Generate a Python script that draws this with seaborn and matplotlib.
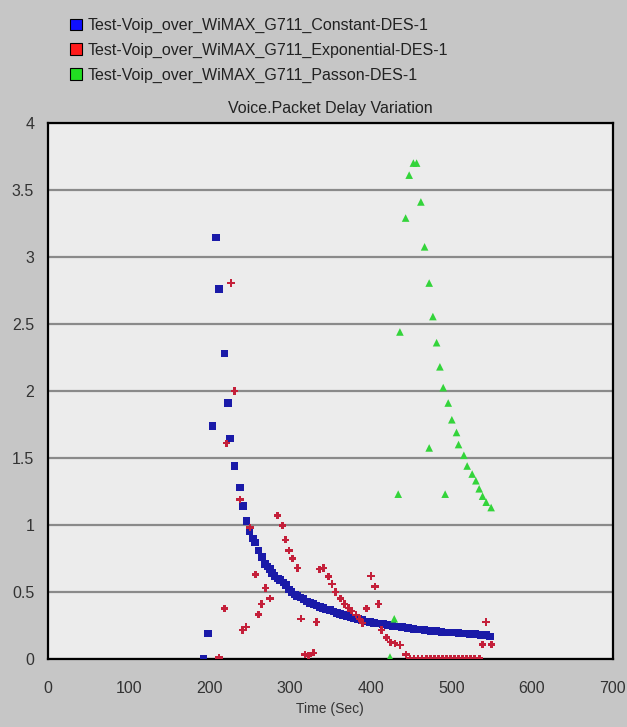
import matplotlib
matplotlib.use("Agg")
import matplotlib.pyplot as plt
from matplotlib.patches import Patch
import pandas as pd
import seaborn as sns

# 読み取った値（Time [s], Packet Delay Variation）
constant_time = [193, 198, 204, 208, 212, 219, 223, 226, 231, 238, 242, 246, 250, 254,
                 257, 261, 265, 269, 272, 275, 278, 281, 285, 288, 292, 295, 299, 302,
                 306, 309, 313, 317, 321, 325, 329, 333, 337, 341, 345, 350, 354, 358,
                 362, 366, 371, 375, 379, 384, 389, 394, 399, 404, 409, 415, 421, 427,
                 433, 439, 446, 453, 460, 467, 474, 481, 488, 495, 502, 509, 516, 523,
                 530, 537, 543, 548]
constant_pdv = [0.00, 0.19, 1.74, 3.145, 2.76, 2.28, 1.91, 1.645, 1.44, 1.28, 1.14, 1.03,
                0.95, 0.90, 0.87, 0.81, 0.76, 0.71, 0.69, 0.67, 0.64, 0.62, 0.60, 0.59,
                0.57, 0.55, 0.52, 0.50, 0.48, 0.47, 0.46, 0.45, 0.43, 0.42, 0.41, 0.40,
                0.39, 0.38, 0.37, 0.365, 0.355, 0.345, 0.335, 0.33, 0.32, 0.31, 0.305,
                0.30, 0.29, 0.28, 0.275, 0.268, 0.264, 0.26, 0.255, 0.248, 0.243, 0.237,
                0.23, 0.223, 0.219, 0.215, 0.211, 0.207, 0.203, 0.199, 0.197, 0.194,
                0.191, 0.188, 0.185, 0.181, 0.178, 0.167]

exp_time = [212, 218.6, 221.3, 227, 231.2, 238, 241.3, 245.5, 250.4, 257, 260.7, 264.9,
            269.4, 275.2, 284.3, 290.9, 294.2, 298.8, 303.3, 309.1, 313.6, 318.6, 322.7,
            328.9, 333, 336.4, 341.3, 347.5, 352, 356.6, 362.8, 367.8, 372.3, 376.4,
            381.8, 386, 390, 395, 400.4, 405.4, 410, 413.6, 419.8, 424.8, 430, 436.4,
            443.8, 449, 454, 459, 464, 469, 474, 479, 484, 489, 494, 499, 504, 509, 514,
            519, 524, 529, 535, 538.8, 543, 550]
exp_pdv = [0.01, 0.377, 1.61, 2.805, 2.0, 1.19, 0.216, 0.24, 0.98, 0.632, 0.333, 0.41,
           0.53, 0.45, 1.07, 0.995, 0.89, 0.81, 0.75, 0.68, 0.30, 0.034, 0.025, 0.047,
           0.277, 0.67, 0.68, 0.615, 0.56, 0.50, 0.45, 0.41, 0.38, 0.36, 0.33, 0.30,
           0.27, 0.377, 0.62, 0.54, 0.41, 0.216, 0.16, 0.125, 0.118, 0.105, 0.034,
           0.005, 0.005, 0.005, 0.005, 0.005, 0.005, 0.005, 0.005, 0.005, 0.005, 0.005,
           0.005, 0.005, 0.005, 0.005, 0.005, 0.005, 0.005, 0.108, 0.277, 0.108]

passon_time = [424, 429.3, 434.2, 436.3, 443.4, 447.8, 453, 457, 462.3, 466.9, 472.6,
               472.6, 477.2, 481.8, 485.9, 490, 492.4, 496.2, 500.7, 506.5, 509, 515.6,
               519.7, 525.9, 530.5, 534.6, 538.8, 543.3, 549.4]
passon_pdv = [0.015, 0.30, 1.23, 2.44, 3.29, 3.61, 3.70, 3.70, 3.41, 3.075, 2.805, 1.575,
              2.555, 2.36, 2.18, 2.025, 1.23, 1.91, 1.785, 1.69, 1.60, 1.52, 1.44, 1.38,
              1.33, 1.27, 1.215, 1.17, 1.13]

series_names = ["Test-Voip_over_WiMAX_G711_Constant-DES-1",
                "Test-Voip_over_WiMAX_G711_Exponential-DES-1",
                "Test-Voip_over_WiMAX_G711_Passon-DES-1"]
x_ticks = [0, 100, 200, 300, 400, 500, 600, 700]
y_ticks = [0, 0.5, 1, 1.5, 2, 2.5, 3, 3.5, 4]
y_tick_labels = ["0", "0.5", "1", "1.5", "2", "2.5", "3", "3.5", "4"]

FIG_BG = "#c6c6c6"
AX_BG = "#ececec"

sns.set_style("white")
plt.rcParams["font.family"] = ["Liberation Sans", "DejaVu Sans"]

fig = plt.figure(figsize=(6.27, 7.27), dpi=100, facecolor=FIG_BG)
ax = fig.add_axes([0.0766, 0.0935, 0.9004, 0.7375])
ax.set_facecolor(AX_BG)

df_c = pd.DataFrame({"t": constant_time, "v": constant_pdv})
df_e = pd.DataFrame({"t": exp_time, "v": exp_pdv})
df_p = pd.DataFrame({"t": passon_time, "v": passon_pdv})

sns.scatterplot(data=df_c, x="t", y="v", ax=ax, marker="s", s=30, color="#1a1aa8",
                edgecolor="none", zorder=3)
sns.scatterplot(data=df_e, x="t", y="v", ax=ax, marker="P", s=28, color="#c4203a",
                edgecolor="none", zorder=4)
sns.scatterplot(data=df_p, x="t", y="v", ax=ax, marker="^", s=30, color="#33d43a",
                edgecolor="none", zorder=3)

ax.set_xlim(0, 700)
ax.set_ylim(0, 4)
ax.set_xticks(x_ticks)
ax.set_yticks(y_ticks, labels=y_tick_labels)
ax.grid(axis="y", color="#8a8a8a", linewidth=1.6)
ax.grid(axis="x", visible=False)
ax.set_axisbelow(True)
for side in ["left", "bottom", "top", "right"]:
    ax.spines[side].set_visible(True)
    ax.spines[side].set_color("black")
    ax.spines[side].set_linewidth(1.6)
ax.tick_params(axis="both", direction="out", length=6, width=1.2, color="black",
               labelsize=11.5, labelcolor="#333333", pad=4)
ax.tick_params(axis="x", pad=10)

ax.set_xlabel("Time (Sec)", fontsize=10, color="#333333", labelpad=4)
ax.set_ylabel("")
ax.set_title("Voice.Packet Delay Variation", fontsize=11.5, color="#222222", pad=7)

handles = [Patch(facecolor=c, edgecolor="black", linewidth=0.8)
           for c in ["#1010ff", "#ff1a1a", "#22dd22"]]
fig.legend(handles, series_names, loc="upper left", bbox_to_anchor=(0.088, 0.995),
           frameon=False, fontsize=11.5, handlelength=0.75, handleheight=0.75,
           handletextpad=0.4, labelspacing=0.6, labelcolor="#222222")

fig.savefig("out.png", dpi=100, facecolor=FIG_BG)
